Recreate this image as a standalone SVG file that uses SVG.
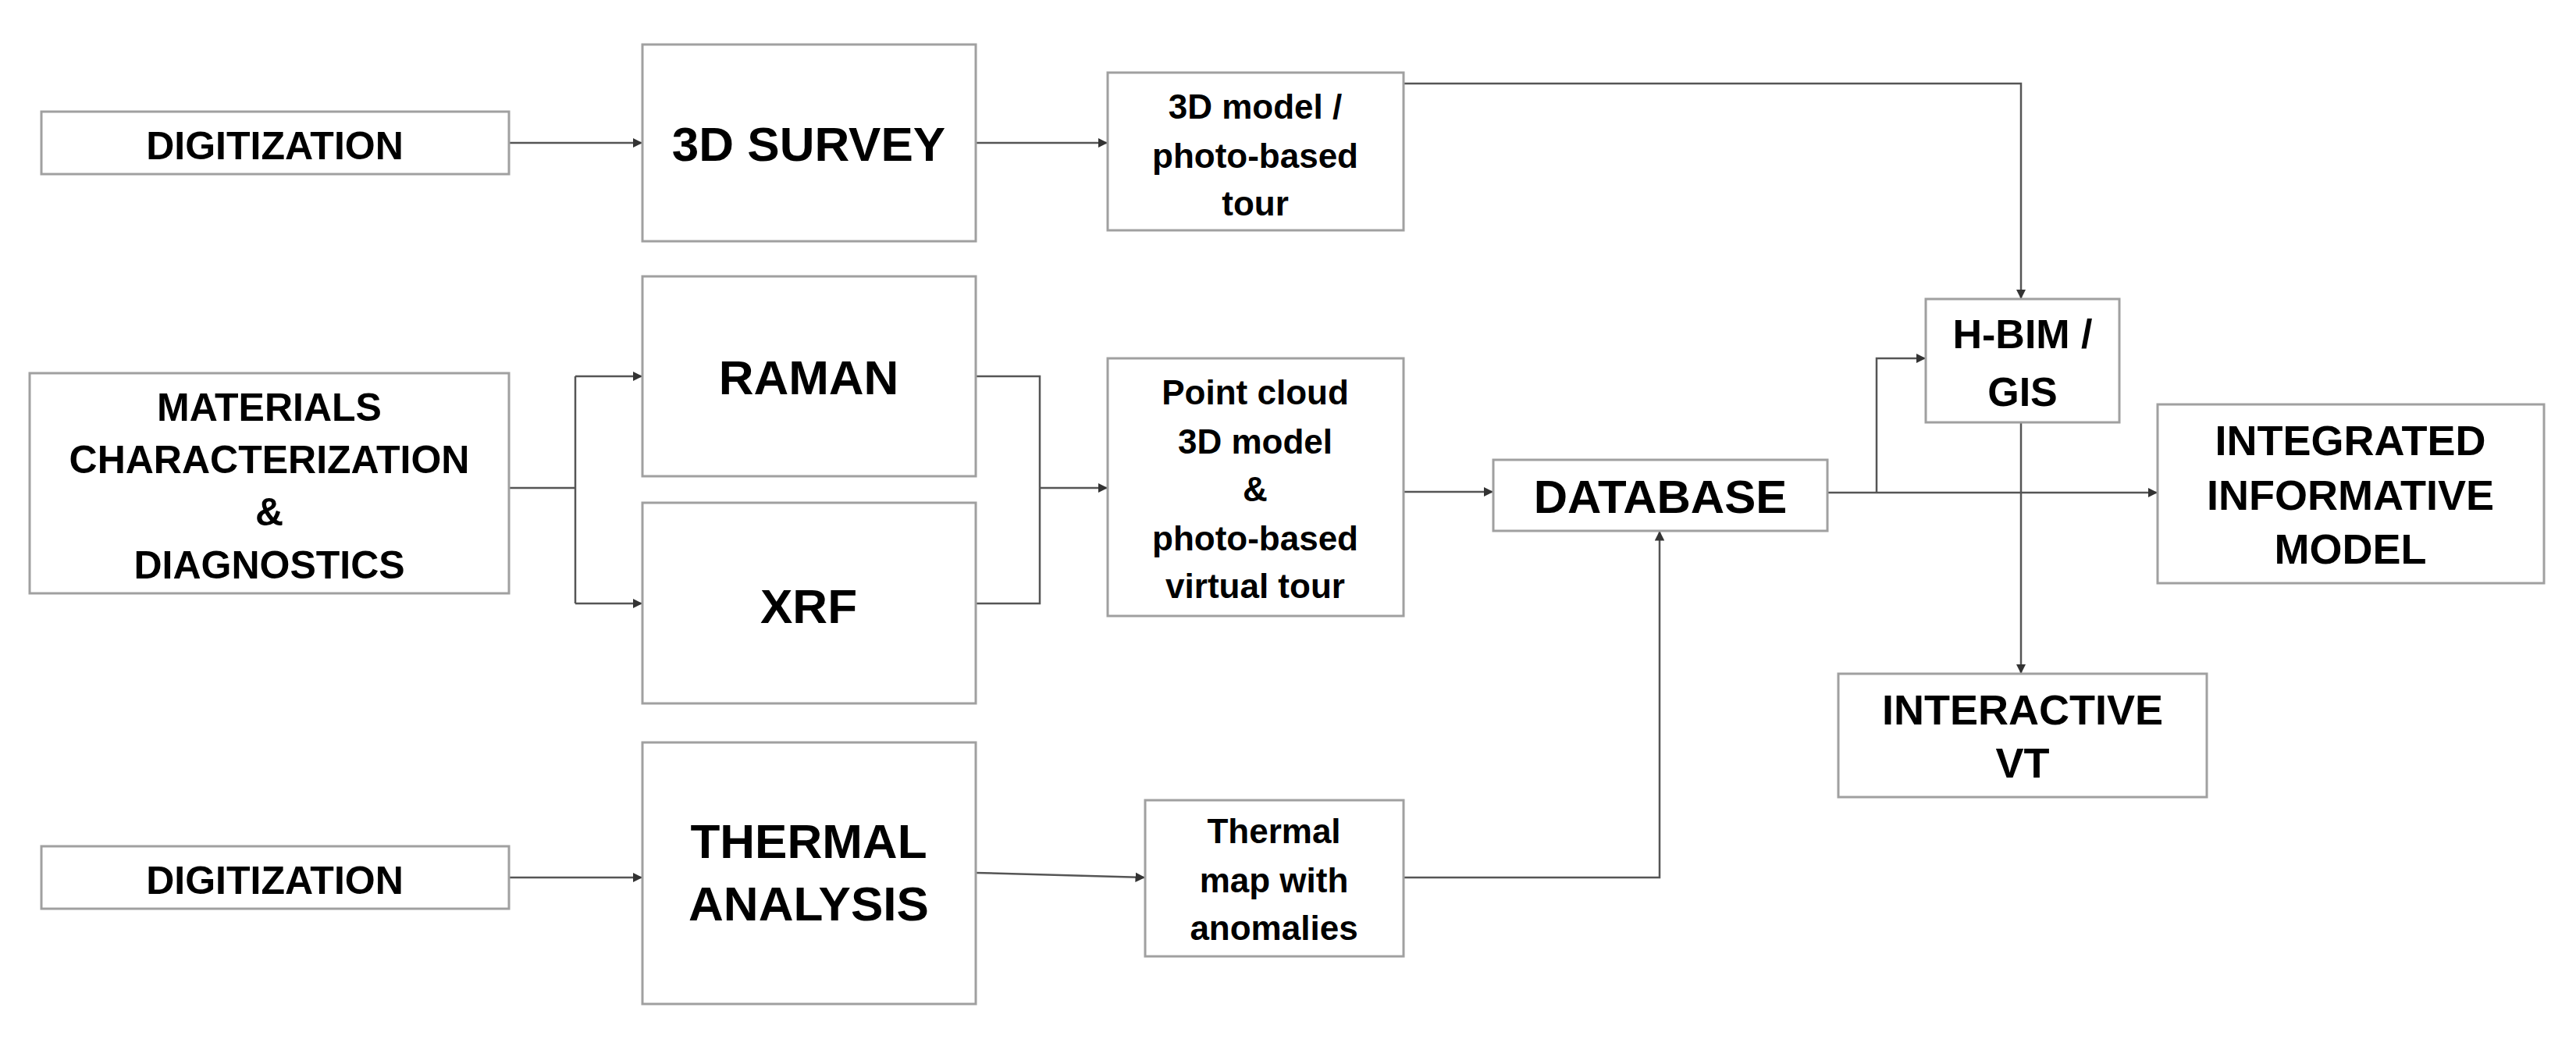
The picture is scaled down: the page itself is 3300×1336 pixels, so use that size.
<svg xmlns="http://www.w3.org/2000/svg" width="3300" height="1336" viewBox="0 0 3300 1336">
<style>
.b{fill:#fff;stroke:#a0a0a0;stroke-width:3}
text{font-family:"Liberation Sans",Arial,sans-serif;font-weight:bold;fill:#000;text-anchor:middle}
.c{fill:none;stroke:#555;stroke-width:2.5}
</style>
<defs><marker id="a" viewBox="0 0 10 10" refX="10" refY="5" markerWidth="5" markerHeight="5" orient="auto"><path d="M0,0L10,5L0,10z" fill="#333"/></marker></defs>
<rect width="3300" height="1336" fill="#fff"/>
<g id="connectors" class="c">
<path d="M652,183H823" marker-end="url(#a)"/>
<path d="M1250,183H1419" marker-end="url(#a)"/>
<path d="M1798,107H2589V383" marker-end="url(#a)"/>
<path d="M652,625H737"/>
<path d="M737,482V773"/>
<path d="M737,482H823" marker-end="url(#a)"/>
<path d="M737,773H823" marker-end="url(#a)"/>
<path d="M1250,482H1332V773H1250"/>
<path d="M1332,625H1419" marker-end="url(#a)"/>
<path d="M1798,630H1913" marker-end="url(#a)"/>
<path d="M2341,631H2764" marker-end="url(#a)"/>
<path d="M2404,631V459H2467" marker-end="url(#a)"/>
<path d="M2589,541V863" marker-end="url(#a)"/>
<path d="M652,1124H823" marker-end="url(#a)"/>
<path d="M1250,1118L1467,1124" marker-end="url(#a)"/>
<path d="M1798,1124H2126V680" marker-end="url(#a)"/>
</g>
<g id="dig1"><rect class="b" x="53" y="143" width="599" height="80"/><text x="352" y="204" font-size="50">DIGITIZATION</text></g>
<g id="survey"><rect class="b" x="823" y="57" width="427" height="252"/><text x="1036" y="206" font-size="62">3D SURVEY</text></g>
<g id="model"><rect class="b" x="1419" y="93" width="379" height="202"/><text font-size="44"><tspan x="1608" y="152">3D model /</tspan><tspan x="1608" y="215">photo-based</tspan><tspan x="1608" y="276">tour</tspan></text></g>
<g id="materials"><rect class="b" x="38" y="478" width="614" height="282"/><text font-size="50"><tspan x="345" y="539">MATERIALS</tspan><tspan x="345" y="606">CHARACTERIZATION</tspan><tspan x="345" y="673">&amp;</tspan><tspan x="345" y="741">DIAGNOSTICS</tspan></text></g>
<g id="raman"><rect class="b" x="823" y="354" width="427" height="256"/><text x="1036" y="505" font-size="62">RAMAN</text></g>
<g id="xrf"><rect class="b" x="823" y="644" width="427" height="257"/><text x="1036" y="798" font-size="62">XRF</text></g>
<g id="pointcloud"><rect class="b" x="1419" y="459" width="379" height="330"/><text font-size="44"><tspan x="1608" y="518">Point cloud</tspan><tspan x="1608" y="581">3D model</tspan><tspan x="1608" y="642">&amp;</tspan><tspan x="1608" y="705">photo-based</tspan><tspan x="1608" y="766">virtual tour</tspan></text></g>
<g id="database"><rect class="b" x="1913" y="589" width="428" height="91"/><text x="2127" y="657" font-size="60">DATABASE</text></g>
<g id="hbim"><rect class="b" x="2467" y="383" width="248" height="158"/><text font-size="52"><tspan x="2591" y="446">H-BIM /</tspan><tspan x="2591" y="520">GIS</tspan></text></g>
<g id="integrated"><rect class="b" x="2764" y="518" width="495" height="229"/><text font-size="54"><tspan x="3011" y="583">INTEGRATED</tspan><tspan x="3011" y="653">INFORMATIVE</tspan><tspan x="3011" y="722">MODEL</tspan></text></g>
<g id="interactive"><rect class="b" x="2355" y="863" width="472" height="158"/><text font-size="54"><tspan x="2591" y="928">INTERACTIVE</tspan><tspan x="2591" y="996">VT</tspan></text></g>
<g id="dig2"><rect class="b" x="53" y="1084" width="599" height="80"/><text x="352" y="1145" font-size="50">DIGITIZATION</text></g>
<g id="thermal"><rect class="b" x="823" y="951" width="427" height="335"/><text font-size="62"><tspan x="1036" y="1099">THERMAL</tspan><tspan x="1036" y="1179">ANALYSIS</tspan></text></g>
<g id="thermalmap"><rect class="b" x="1467" y="1025" width="331" height="200"/><text font-size="44"><tspan x="1632" y="1080">Thermal</tspan><tspan x="1632" y="1143">map with</tspan><tspan x="1632" y="1204">anomalies</tspan></text></g>
</svg>
